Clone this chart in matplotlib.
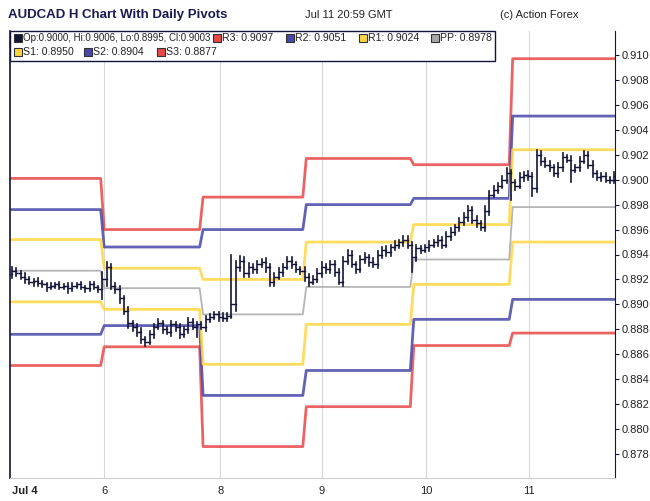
import matplotlib
matplotlib.use("Agg")
import matplotlib.pyplot as plt
from matplotlib.patches import Rectangle
import numpy as np

plt.rcParams['font.family'] = ['Liberation Sans', 'DejaVu Sans']

closes = [0.8927,0.8925,0.8922,0.8920,0.8918,0.8919,0.8917,0.8916,0.8914,0.8915,0.8916,0.8914,0.8915,0.8913,0.8915,0.8916,0.8914,0.8913,0.8916,0.8914,0.8912,
          0.8920,0.8930,0.8915,0.8912,0.8905,0.8895,0.8885,0.8882,0.8878,0.8872,0.8870,0.8876,0.8882,0.8885,0.8880,0.8878,0.8884,0.8882,0.8876,0.8880,0.8886,0.8882,0.8884,
          0.8882,0.8888,0.8890,0.8892,0.8890,0.8889,0.8891,0.8900,0.8930,0.8935,0.8925,0.8930,0.8928,0.8932,0.8934,0.8930,0.8918,0.8922,0.8926,0.8930,0.8935,0.8932,0.8928,0.8927,
          0.8922,0.8918,0.8920,0.8925,0.8930,0.8928,0.8932,0.8926,0.8918,0.8935,0.8940,0.8932,0.8928,0.8936,0.8938,0.8934,0.8932,0.8940,0.8944,0.8942,0.8946,0.8948,0.8950,0.8952,0.8948,
          0.8938,0.8945,0.8944,0.8946,0.8948,0.8950,0.8952,0.8948,0.8955,0.8958,0.8962,0.8966,0.8970,0.8976,0.8968,0.8965,0.8962,0.8975,0.8988,0.8992,0.8995,0.9000,0.9005,
          0.8998,0.8995,0.9002,0.9004,0.9003,0.8993,0.9020,0.9015,0.9012,0.9010,0.9005,0.9010,0.9018,0.9016,0.9008,0.9010,0.9015,0.9020,0.9012,0.9005,0.9002,0.9003,0.9000,0.9000,0.9003]
opens = [0.8924] + closes[:-1]
# extensions above/below bar body, in 0.0001 units
hi_ext = [3,2,2,3,2,1,2,2,1,2,1,2,1,2,2,1,2,1,2,2,1,
          6,4,2,2,3,2,3,2,2,3,2,3,2,3,2,2,3,2,2,2,3,2,2,
          2,3,2,2,2,3,2,40,5,4,3,3,2,3,2,3,2,3,3,2,3,3,2,2,
          3,2,3,3,4,2,3,3,2,3,4,3,2,3,3,2,3,3,2,3,2,3,2,3,3,
          2,3,2,2,3,2,3,2,3,3,2,3,3,3,2,3,2,4,3,3,2,3,4,
          3,2,3,2,3,2,4,3,2,3,2,3,3,2,3,2,3,3,2,3,2,2,2,2,3]
lo_ext = [3,2,2,3,2,3,2,2,3,2,2,2,2,4,2,2,2,3,2,2,2,
          8,5,3,3,4,3,4,3,3,3,3,2,3,2,3,2,3,3,3,2,3,2,8,
          2,3,2,2,3,2,2,2,5,3,3,3,3,3,2,4,3,3,2,3,2,3,2,3,
          3,3,2,2,3,3,3,3,2,3,3,2,3,2,3,3,2,3,3,3,3,2,3,3,3,
          12,3,3,2,3,2,3,3,2,3,2,3,2,3,3,3,2,3,3,2,3,2,3,
          14,3,2,3,3,6,3,3,2,3,2,3,3,2,10,2,3,2,3,3,2,3,2,3,3]

# pivot levels per trading day segment
R3 = [0.9001,0.8960,0.8986,0.9017,0.9012,0.9097]
R2 = [0.8976,0.8946,0.8960,0.8980,0.8985,0.9051]
R1 = [0.8952,0.8929,0.8920,0.8950,0.8964,0.9024]
PP = [0.8927,0.8913,0.8892,0.8914,0.8936,0.8978]
S1 = [0.8902,0.8896,0.8852,0.8884,0.8916,0.8950]
S2 = [0.8876,0.8883,0.8827,0.8847,0.8888,0.8904]
S3 = [0.8851,0.8866,0.8786,0.8818,0.8867,0.8877]
bounds = [21, 44, 68, 93, 116]
tick_pos = [0, 21.4, 48.4, 72, 96.3, 120.2]
tick_labels = ["Jul 4", "6", "8", "9", "10", "11"]

W, H = 650, 501
fig = plt.figure(figsize=(W/100, H/100), dpi=100)
ax = fig.add_axes([10/W, 1-478/H, 605/W, 447/H])
xmin, xmax = -0.5, 140.2
ax.set_xlim(xmin, xmax)
ax.set_ylim(0.87608, 0.91192)

for t in tick_pos[1:]:
    ax.axvline(t, color='#d8d8d8', lw=0.8, zorder=0)

edges = [xmin] + bounds + [xmax]
def pivot_line(vals, color, lw=2.0):
    xs, ys = [], []
    for i, v in enumerate(vals):
        s = edges[i] + (0.4 if i > 0 else 0)
        e = edges[i+1] - (0.4 if i < len(vals)-1 else 0)
        xs += [s, e]; ys += [v, v]
    ax.plot(xs, ys, color=color, lw=lw, alpha=0.85, zorder=2, solid_capstyle='butt')

red, blue, yel, gray = '#e84848', '#4848a8', '#ffd640', '#a8a8a8'
pivot_line(R3, red); pivot_line(S3, red)
pivot_line(R2, blue); pivot_line(S2, blue)
pivot_line(R1, yel); pivot_line(S1, yel)
pivot_line(PP, gray, lw=1.3)

bc = '#141438'
for i, (o, c) in enumerate(zip(opens, closes)):
    hi = max(o, c) + hi_ext[i]*1e-4
    lo = min(o, c) - lo_ext[i]*1e-4
    ax.plot([i, i], [lo, hi], color=bc, lw=1.2, zorder=3)
    ax.plot([i-0.4, i], [o, o], color=bc, lw=1.0, zorder=3)
    ax.plot([i, i+0.4], [c, c], color=bc, lw=1.0, zorder=3)

ax.yaxis.tick_right()
yt = np.arange(0.878, 0.9101, 0.002)
ax.set_yticks(yt)
ax.set_yticklabels([f"{v:.3f}" for v in yt], fontsize=8, color='#222222')
ax.tick_params(axis='y', length=3, color='#141438', pad=2)
ax.set_xticks(tick_pos)
ax.set_xticklabels(tick_labels, fontsize=8, color='#222222')
ax.get_xticklabels()[0].set_fontweight('bold')
ax.get_xticklabels()[0].set_horizontalalignment('left')
ax.tick_params(axis='x', length=0, pad=6)
for sp in ['top', 'right']:
    ax.spines[sp].set_visible(False)
ax.spines['left'].set_color('#141438')
ax.spines['bottom'].set_color('#cccccc')
ax.spines['right'].set_visible(True)
ax.spines['right'].set_color('#141438')
ax.spines['left'].set_linewidth(1.2)

def px(x, y):
    return x / W, 1 - y / H
lb = Rectangle(px(10, 61), 485/W, 30/H, transform=fig.transFigure,
               facecolor='white', edgecolor='#141438', lw=1.0, zorder=5)
fig.add_artist(lb)
items = [(15, 38, '#141438', "Op:0.9000, Hi:0.9006, Lo:0.8995, Cl:0.9003", 7.0),
         (214, 38, red, "R3: 0.9097", 7.6), (287, 38, blue, "R2: 0.9051", 7.6),
         (360, 38, yel, "R1: 0.9024", 7.6), (432, 38, gray, "PP: 0.8978", 7.6),
         (15, 52, yel, "S1: 0.8950", 7.6), (85, 52, blue, "S2: 0.8904", 7.6),
         (158, 52, red, "S3: 0.8877", 7.6)]
for x, y, col, txt, fs in items:
    sq = Rectangle(px(x-1, y+4), 8/W, 8/H, transform=fig.transFigure,
                   facecolor=col, edgecolor='#333333', lw=0.8, zorder=6)
    fig.add_artist(sq)
    fig.text(*px(x+8, y), txt, fontsize=fs, va='center', ha='left', color='#222222', zorder=7)

fig.text(*px(8, 15), "AUDCAD H Chart With Daily Pivots", fontsize=9.5, fontweight='bold',
         color='#1a1a50', va='center')
fig.text(*px(305, 15), "Jul 11 20:59 GMT", fontsize=8, color='#222222', va='center')
fig.text(*px(500, 15), "(c) Action Forex", fontsize=8, color='#222222', va='center')

fig.savefig("out.png", dpi=100)
